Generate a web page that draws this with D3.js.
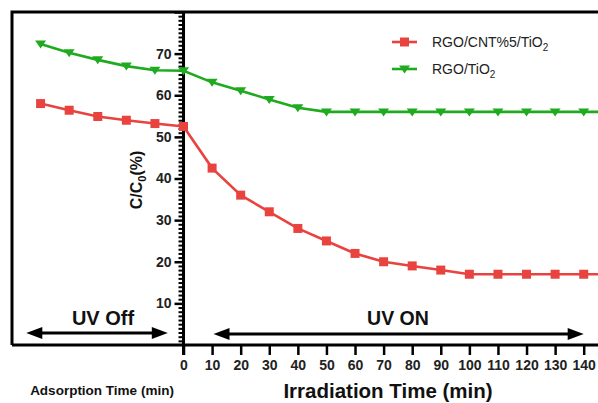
<!DOCTYPE html>
<html><head><meta charset="utf-8">
<script src="https://cdn.jsdelivr.net/npm/d3@7"></script>
<style>
body{margin:0;background:#fff;}
svg{display:block;font-family:"Liberation Sans",Arial,sans-serif;}
</style></head>
<body><svg id="c" width="598" height="403"></svg>
<script>
const times = [-50,-40,-30,-20,-10,0,10,20,30,40,50,60,70,80,90,100,110,120,130,140,150];
const redValues = [58,56.4,54.9,54,53.2,52.5,42.5,36,32,28,25,22,20,19,18,17,17,17,17,17,17];
const greenValues = [72.3,70.2,68.5,67,66,65.9,63.1,61.1,59,57,56,56,56,56,56,56,56,56,56,56,56];
const seriesNames = ["RGO/CNT%5/TiO", "RGO/TiO"];
const yTickValues = [10,20,30,40,50,60,70];
const xTickValues = [0,10,20,30,40,50,60,70,80,90,100,110,120,130,140];

const svg = d3.select("#c");
const x = d3.scaleLinear().domain([-60,145]).range([12,598]);
const y = d3.scaleLinear().domain([0,80]).range([345,12]);
const red = "#e8433f", green = "#1faa1f";

svg.append("clipPath").attr("id","clip").append("rect")
  .attr("x",12).attr("y",12).attr("width",586).attr("height",333);

// frame
svg.append("path").attr("d",`M${x(-60)},${y(0)}V${y(80)}H598`)
  .attr("fill","none").attr("stroke","#000").attr("stroke-width",3);
svg.append("line").attr("x1",x(-60)).attr("x2",598).attr("y1",y(0)).attr("y2",y(0))
  .attr("stroke","#000").attr("stroke-width",3);

// y axis minor ticks
const minor = d3.range(1,80).filter(v=>v%10!==0);
const yMinor = svg.append("g").attr("transform",`translate(${x(0)},0)`)
  .call(d3.axisLeft(y).tickValues(minor).tickSize(5).tickFormat(""));
yMinor.select(".domain").remove();
yMinor.selectAll("line").attr("stroke-width",2);
const yAxis = svg.append("g").attr("transform",`translate(${x(0)},0)`)
  .call(d3.axisLeft(y).tickValues(yTickValues.concat([80])).tickSize(9).tickPadding(3)
    .tickFormat(d=> d===80? "": d));
yAxis.select(".domain").remove();
yAxis.selectAll("line").attr("stroke-width",2.5);
yAxis.selectAll("text").attr("font-size",14).attr("font-weight","bold").attr("fill","#222")
  .attr("font-family","Liberation Sans, Arial, sans-serif");
svg.append("line").attr("x1",x(0)).attr("x2",x(0)).attr("y1",y(80)).attr("y2",y(0)+10)
  .attr("stroke","#000").attr("stroke-width",3);

// x axis
const xAxis = svg.append("g").attr("transform",`translate(0,${y(0)})`)
  .call(d3.axisBottom(x).tickValues(xTickValues).tickSize(10).tickPadding(5));
xAxis.select(".domain").remove();
xAxis.selectAll("line").attr("stroke-width",2.5);
xAxis.selectAll("text").attr("font-size",14).attr("font-weight","bold").attr("fill","#222")
  .attr("font-family","Liberation Sans, Arial, sans-serif");

// lines
const plot = svg.append("g").attr("clip-path","url(#clip)");
const line = d3.line().x((d,i)=>x(times[i])).y(d=>y(d));
function series(vals, color, shape){
  plot.append("path").datum(vals).attr("d",line).attr("fill","none")
    .attr("stroke",color).attr("stroke-width",2.6);
  plot.selectAll(null).data(vals).enter().append("path")
    .attr("transform",(d,i)=>`translate(${x(times[i])},${y(d)})`)
    .attr("d",shape).attr("fill",color);
}
const sq = "M-4.5,-4.5H4.5V4.5H-4.5Z";
const tri = "M-5.5,-3.5H5.5L0,4.5Z";
series(redValues, red, sq);
series(greenValues, green, tri);

// legend
const leg = [{c:red,s:sq,yy:42,t:seriesNames[0]},{c:green,s:tri,yy:69,t:seriesNames[1]}];
leg.forEach(l=>{
  svg.append("line").attr("x1",392).attr("x2",417).attr("y1",l.yy).attr("y2",l.yy)
    .attr("stroke",l.c).attr("stroke-width",2.6);
  svg.append("path").attr("transform",`translate(404.5,${l.yy})`).attr("d",l.s).attr("fill",l.c);
  const t = svg.append("text").attr("x",432).attr("y",l.yy+5).attr("font-size",14).attr("fill","#222");
  t.append("tspan").text(l.t);
  t.append("tspan").text("2").attr("font-size",10).attr("dy",3.5);
});

// y label
const yl = svg.append("text").attr("transform",`translate(142,180) rotate(-90)`)
  .attr("text-anchor","middle").attr("font-size",16).attr("font-weight","bold").attr("fill","#111");
yl.append("tspan").text("C/C");
yl.append("tspan").text("0").attr("font-size",11).attr("dy",3.5);
yl.append("tspan").text("(%)").attr("dy",-3.5);

// x labels
svg.append("text").attr("x",388).attr("y",398).attr("text-anchor","middle")
  .attr("font-size",20.5).attr("font-weight","bold").attr("fill","#111").text("Irradiation Time (min)");
svg.append("text").attr("x",102).attr("y",395).attr("text-anchor","middle")
  .attr("font-size",13.5).attr("font-weight","bold").attr("fill","#111").text("Adsorption Time (min)");

// UV arrows
function arrow(x1,x2,yy){
  svg.append("line").attr("x1",x1+12).attr("x2",x2-12).attr("y1",yy).attr("y2",yy)
    .attr("stroke","#000").attr("stroke-width",3);
  svg.append("path").attr("d",`M${x1},${yy}L${x1+16},${yy-6}V${yy+6}Z`).attr("fill","#000");
  svg.append("path").attr("d",`M${x2},${yy}L${x2-16},${yy-6}V${yy+6}Z`).attr("fill","#000");
}
arrow(x(-55), x(-5.5), 333);
arrow(x(10.5), x(140), 334);
svg.append("text").attr("x",103).attr("y",325).attr("text-anchor","middle")
  .attr("font-size",20).attr("font-weight","bold").attr("fill","#111").text("UV Off");
svg.append("text").attr("x",398).attr("y",325).attr("text-anchor","middle")
  .attr("font-size",19.5).attr("font-weight","bold").attr("fill","#111").text("UV ON");
</script></body></html>
